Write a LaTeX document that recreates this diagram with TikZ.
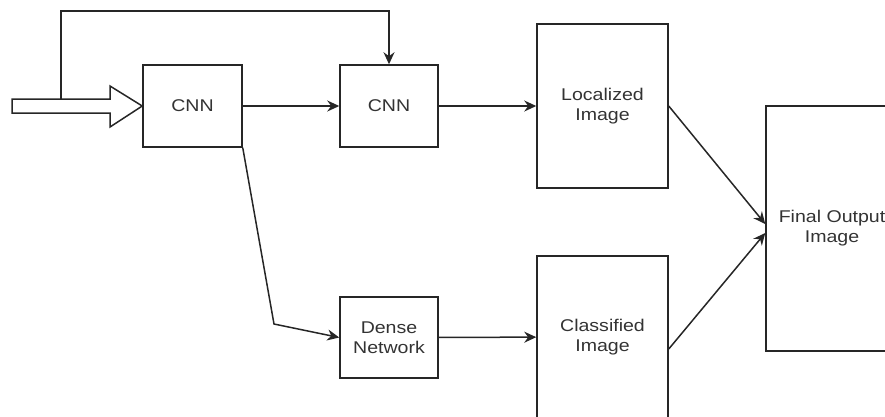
\documentclass[tikz,border=0pt]{standalone}
\usepackage{fontspec}
\setmainfont{Liberation Sans}[FakeStretch=1.15]
\usepackage{tikz}
\usetikzlibrary{arrows.meta}

\begin{document}
\begin{tikzpicture}
	[x=1pt, y=-1pt,
	line width=1.5pt,
	>={Stealth[length=12pt, width=11pt]}]
	\tikzstyle{box}=[draw=black!85, text=black!80, align=center, inner sep=0pt,
		font=\fontsize{17}{20}\selectfont]
	\useasboundingbox (0,0) rectangle (885,416);
	\node[box, minimum width=99, minimum height=82] (cnnA) at (192.5,106) {CNN};
	\node[box, minimum width=98, minimum height=82] (cnnB) at (389,106) {CNN};
	\node[box, minimum width=131, minimum height=164] (loc) at (602.5,106) {Localized\\Image};
	\node[box, minimum width=98, minimum height=81] (dense) at (389,337.5) {Dense\\Network};
	\node[box, minimum width=131, minimum height=162] (cls) at (602.5,337) {Classified\\Image};
	\node[box, minimum width=132, minimum height=245] (final) at (832,228.5) {Final Output\\Image};
	\draw[draw=black!85] (12,99) -- (110,99) -- (110,86) -- (cnnA.west) -- (110,127)
		-- (110,113) -- (12,113) -- cycle;
	\coordinate (split) at (61,99);
	\coordinate (bend) at (274,324);
	\draw[->, black!85] (split) -- ++(0,-88) -| (cnnB.north);
	\draw[->, black!85] (cnnA) -- (cnnB);
	\draw[->, black!85] (cnnB) -- (loc);
	\draw[->, black!85] (cnnA.south east) -- (bend) -- (dense.west);
	\draw[->, black!85] (dense) -- (cls);
	\draw[->, black!85] (loc.east) -- ([yshift=4.5pt]final.west);
	\draw[->, black!85] ([yshift=-12pt]cls.east) -- ([yshift=-4.5pt]final.west);
\end{tikzpicture}
\end{document}
